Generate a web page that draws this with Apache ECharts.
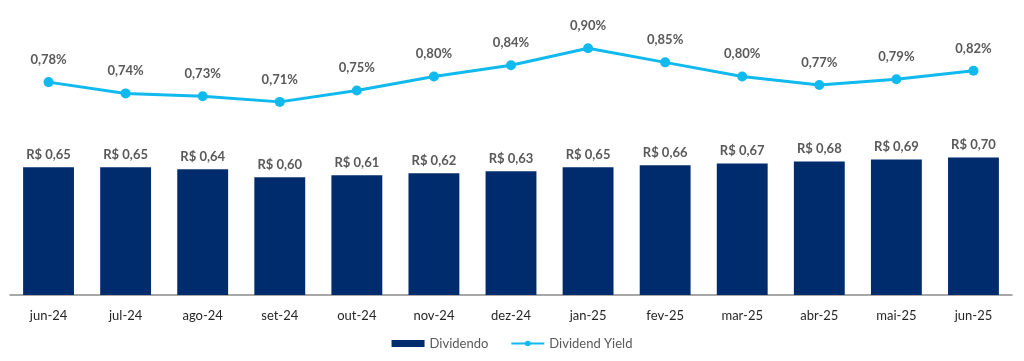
<!DOCTYPE html>
<html><head><meta charset="utf-8">
<script src="https://cdn.jsdelivr.net/npm/echarts@6/dist/echarts.min.js"></script>
<style>html,body{margin:0;padding:0;background:#fff}#c{width:1024px;height:361px}</style>
</head><body><div id="c"></div>
<script>
const categories = ["jun-24","jul-24","ago-24","set-24","out-24","nov-24","dez-24","jan-25","fev-25","mar-25","abr-25","mai-25","jun-25"];
const dividendo = [0.65,0.65,0.64,0.60,0.61,0.62,0.63,0.65,0.66,0.67,0.68,0.69,0.70];
const dividendYield = [0.78,0.74,0.73,0.71,0.75,0.80,0.84,0.90,0.85,0.80,0.77,0.79,0.82];
const fmt2 = v => v.toFixed(2).replace('.', ',');
const chart = echarts.init(document.getElementById('c'));
chart.setOption({
  animation:false,
  textStyle:{fontFamily:'Lato, "Open Sans", sans-serif'},
  grid:{left:10,right:12,top:20,bottom:66,containLabel:false},
  legend:{
    bottom:6,left:'center',itemGap:22,itemWidth:33,itemHeight:7,
    textStyle:{color:'#595959',fontSize:13,fontFamily:'Lato, sans-serif'},
    data:[{name:'Dividendo',icon:'rect'},{name:'Dividend Yield'}]
  },
  xAxis:{type:'category',data:categories,
    axisLine:{lineStyle:{color:'#8c8c8c',width:1.5}},axisTick:{show:false},
    axisLabel:{color:'#262626',fontSize:13,margin:14}},
  yAxis:[
    {type:'value',min:0,max:1.4,show:false,splitLine:{show:false}},
    {type:'value',min:0.026,max:1.0,show:false,splitLine:{show:false}}
  ],
  series:[
    {name:'Dividendo',type:'bar',data:dividendo,barWidth:'66%',yAxisIndex:0,
      itemStyle:{color:'#002C6D'},
      label:{show:true,position:'top',distance:6,color:'#595959',fontWeight:'bold',fontSize:13,
        formatter:p=>'R$ '+fmt2(p.value)}},
    {name:'Dividend Yield',type:'line',data:dividendYield,yAxisIndex:1,
      symbol:'circle',symbolSize:10,
      lineStyle:{color:'#10B9EE',width:3},itemStyle:{color:'#10B9EE'},
      label:{show:true,position:'top',distance:11,color:'#595959',fontWeight:'bold',fontSize:13,
        formatter:p=>fmt2(p.value)+'%'}}
  ]
});
</script></body></html>
